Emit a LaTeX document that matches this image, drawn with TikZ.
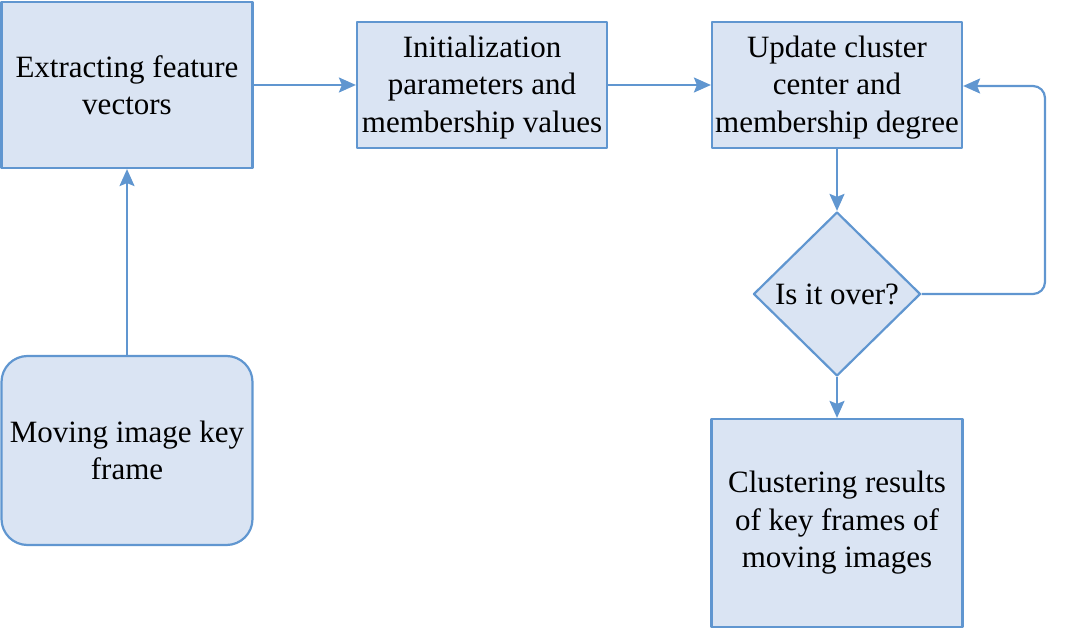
\documentclass[tikz,border=0pt]{standalone}
\usepackage{fontspec}
\setmainfont{Liberation Serif}
\usetikzlibrary{shapes.geometric,arrows.meta}
\definecolor{boxfill}{RGB}{218,228,243}
\definecolor{boxline}{RGB}{96,150,208}

\begin{document}
\begin{tikzpicture}[x=1pt, y=-1pt, line join = round,
    box/.style = {draw=boxline, fill=boxfill, line width=2.2pt, align=center,
                  inner sep=0pt, font=\fontsize{31}{37.5}\selectfont},
    decision/.style = {box, diamond, aspect=1},
    flow/.style = {draw=boxline, line width=2.2pt, -{Stealth[length=17pt,width=15pt,inset=3pt]}}]
    \useasboundingbox (0,0) rectangle (1076,636);

    \node[box, minimum width=251pt, minimum height=166pt] (extract) at (127,85) {Extracting feature\\vectors};
    \node[box, minimum width=250pt, minimum height=126pt] (init) at (482,85) {\strut Initialization\\parameters and\\membership values};
    \node[box, minimum width=250pt, minimum height=126pt] (update) at (837,85) {\strut Update cluster\\center and\\membership degree};
    \node[decision, minimum width=167pt, minimum height=164pt] (over) at (837,294) {Is it over?};
    \node[box, minimum width=251pt, minimum height=208pt] (result) at (837,523) {Clustering results\\of key frames of\\moving images};
    \node[box, rounded corners=26pt, minimum width=251pt, minimum height=189pt] (keyframe) at (127,450.5) {Moving image key\\frame};

    \coordinate (loopA) at (1045,294);
    \coordinate (loopB) at (1045,86);

    \draw[flow] (extract) -- (init);
    \draw[flow] (init) -- (update);
    \draw[flow] (update) -- (over);
    \draw[flow] (over) -- (result);
    \draw[flow] (keyframe) -- (extract);
    \draw[flow, rounded corners=12pt] (over.east) -- (loopA) -- (loopB) -- (update.east |- loopB);
\end{tikzpicture}
\end{document}
